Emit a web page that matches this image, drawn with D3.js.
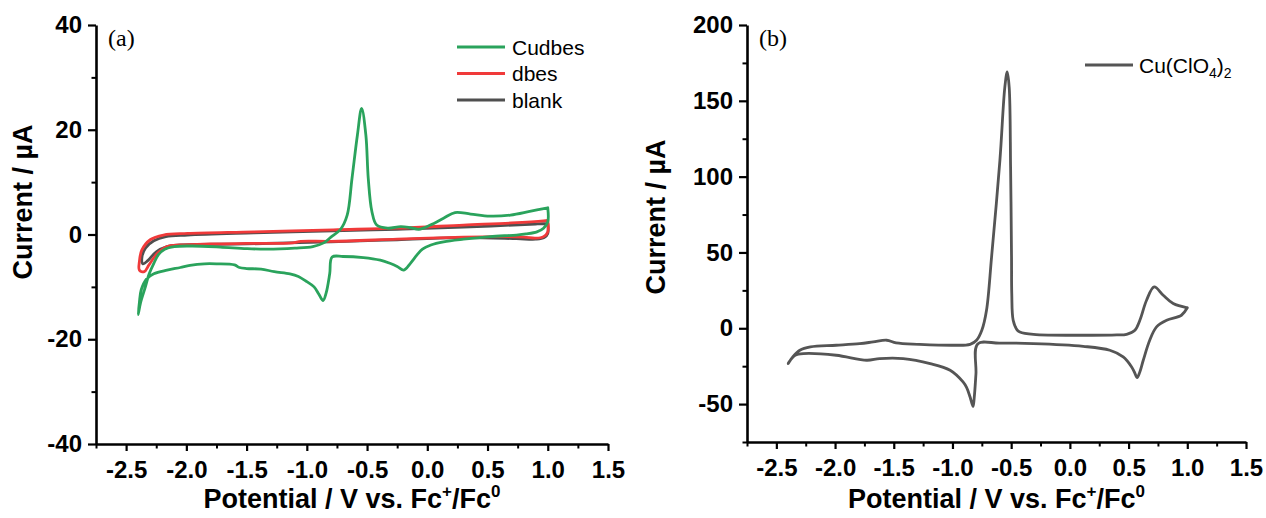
<!DOCTYPE html>
<html>
<head>
<meta charset="utf-8">
<script src="https://cdn.jsdelivr.net/npm/d3@7/dist/d3.min.js"></script>
<style>
  html, body { margin: 0; padding: 0; background: #fff; }
  svg { display: block; }
  .tick text { font-family: "Liberation Sans", Arial, sans-serif; font-weight: bold; }
</style>
</head>
<body>
<svg id="chart" width="1266" height="518"></svg>
<script>
// Cyclic voltammograms, potential (V vs Fc+/Fc0) against current (µA).
// Each series is one closed sweep loop: [potential, current] pairs.

const cudbes = [
  [1.00, 5.1], [1.00, 2.4], [0.965, 1.2], [0.91, 0.5], [0.82, 0.1], [0.74, -0.1],
  [0.52, -0.4], [0.30, -0.9], [0.135, -1.4], [0.03, -2.0], [-0.04, -2.8], [-0.085, -3.9],
  [-0.14, -5.5], [-0.195, -6.8], [-0.25, -6.1], [-0.31, -5.5], [-0.39, -4.9], [-0.53, -4.4],
  [-0.70, -4.2], [-0.79, -4.3], [-0.81, -7.5], [-0.84, -11.2], [-0.865, -12.6], [-0.90, -11.4],
  [-0.94, -10.0], [-1.00, -9.0], [-1.07, -8.0], [-1.14, -7.5], [-1.27, -7.1], [-1.38, -6.6],
  [-1.50, -6.5], [-1.56, -6.3], [-1.60, -5.8], [-1.75, -5.6], [-1.85, -5.6], [-1.97, -5.9],
  [-2.05, -6.3], [-2.16, -6.8], [-2.27, -7.5], [-2.33, -8.5], [-2.375, -10.6], [-2.39, -13.0],
  [-2.40, -15.3], [-2.38, -13.0], [-2.34, -10.0], [-2.31, -7.6], [-2.27, -5.5], [-2.23, -3.8],
  [-2.18, -2.8], [-2.10, -2.3], [-1.95, -2.2], [-1.72, -2.4], [-1.50, -2.7], [-1.33, -2.8],
  [-1.10, -2.6], [-0.95, -2.3], [-0.86, -1.6], [-0.80, -0.5], [-0.72, 1.0], [-0.665, 3.7],
  [-0.625, 10.7], [-0.58, 19.0], [-0.545, 24.1], [-0.51, 19.0], [-0.49, 10.7], [-0.46, 4.4],
  [-0.42, 1.8], [-0.33, 1.2], [-0.22, 1.5], [-0.14, 1.3], [-0.07, 1.0], [0.025, 1.8],
  [0.135, 3.1], [0.23, 4.2], [0.36, 3.9], [0.52, 3.5], [0.69, 3.7], [0.85, 4.4], [1.00, 5.1]
];

const dbes = [
  [1.00, 2.7], [1.00, 0.5], [0.965, -0.4], [0.90, -0.7], [0.80, -0.5], [0.60, -0.4],
  [0.30, -0.5], [-0.25, -0.9], [-0.80, -1.3], [-1.05, -1.3], [-1.12, -1.6], [-1.50, -1.7],
  [-1.80, -1.8], [-2.05, -2.0], [-2.16, -2.3], [-2.24, -3.6], [-2.31, -5.8], [-2.35, -7.1],
  [-2.39, -6.8], [-2.39, -5.2], [-2.37, -3.0], [-2.30, -1.0], [-2.19, -0.1], [-1.99, 0.2],
  [-1.44, 0.5], [-0.78, 0.9], [-0.25, 1.2], [0.30, 1.8], [0.70, 2.2], [0.965, 2.6], [1.00, 2.7]
];

const blank = [
  [1.00, 2.1], [1.00, 0.2], [0.97, -0.6], [0.90, -0.9], [0.74, -0.8], [0.30, -0.6],
  [-0.25, -1.0], [-0.80, -1.4], [-1.50, -1.8], [-2.05, -2.0], [-2.16, -2.3], [-2.25, -3.3],
  [-2.32, -5.0], [-2.36, -5.6], [-2.37, -4.6], [-2.34, -2.6], [-2.27, -1.2], [-2.17, -0.4],
  [-1.99, -0.1], [-1.44, 0.3], [-0.78, 0.7], [-0.25, 1.0], [0.30, 1.4], [0.90, 2.0], [1.00, 2.1]
];

const cuClO4 = [
  [1.00, 13.5], [0.95, 8.6], [0.824, 5.3], [0.738, 0.9], [0.68, -7.9], [0.625, -21.1],
  [0.595, -29.0], [0.573, -32.5], [0.55, -29.0], [0.526, -25.5], [0.454, -18.9], [0.34, -14.5],
  [0.113, -11.9], [-0.31, -10.1], [-0.60, -9.8], [-0.785, -10.3], [-0.80, -30.0], [-0.815, -46.0],
  [-0.825, -51.5], [-0.85, -45.3], [-0.88, -39.0], [-0.91, -35.4], [-1.02, -27.7], [-1.19, -23.3],
  [-1.42, -20.0], [-1.62, -20.0], [-1.73, -21.1], [-1.99, -17.8], [-2.27, -16.7], [-2.34, -17.8],
  [-2.38, -21.0], [-2.40, -23.3], [-2.36, -18.9], [-2.30, -14.5], [-2.21, -12.3], [-1.99, -11.2],
  [-1.79, -10.1], [-1.675, -9.0], [-1.56, -7.9], [-1.48, -9.7], [-1.28, -10.6], [-0.99, -11.2],
  [-0.85, -10.6], [-0.795, -7.9], [-0.75, -1.3], [-0.71, 11.9], [-0.667, 47.0], [-0.596, 110.8],
  [-0.554, 159.0], [-0.534, 169.0], [-0.517, 159.0], [-0.505, 106.0], [-0.497, 47.0], [-0.495, 22.9],
  [-0.483, 5.3], [-0.45, -1.0], [-0.426, -2.4], [-0.31, -4.0], [0.113, -4.6], [0.40, -4.4],
  [0.483, -4.0], [0.554, -1.3], [0.596, 5.3], [0.653, 18.5], [0.718, 27.3], [0.795, 21.8],
  [0.88, 16.3], [1.00, 13.5]
];

const xTicks = [-2.5, -2.0, -1.5, -1.0, -0.5, 0.0, 0.5, 1.0, 1.5];
const xMinor = [-2.75, -2.25, -1.75, -1.25, -0.75, -0.25, 0.25, 0.75, 1.25];
const yTicksA = [-40, -20, 0, 20, 40];
const yMinorA = [-30, -10, 10, 30];
const yTicksB = [-50, 0, 50, 100, 150, 200];
const yMinorB = [-75, -25, 25, 75, 125, 175];

const seriesA = [
  { name: "blank", data: blank, color: "#4f4f4f" },
  { name: "dbes", data: dbes, color: "#f03a3a" },
  { name: "Cudbes", data: cudbes, color: "#2aa35c" }
];
const seriesB = [
  { name: "Cu(ClO4)2", data: cuClO4, color: "#555555" }
];

const FONT = '"Liberation Sans", Arial, sans-serif';
const svg = d3.select("#chart");

function panel(cfg) {
  const x = d3.scaleLinear().domain([-2.75, 1.5]).range([cfg.left, cfg.right]);
  const y = d3.scaleLinear().domain(cfg.yDomain).range([cfg.bottom, cfg.top]);
  const g = svg.append("g");

  const line = d3.line().x(d => x(d[0])).y(d => y(d[1]))
    .curve(d3.curveCatmullRom.alpha(0.5));
  cfg.series.forEach(s => {
    g.append("path").datum(s.data)
      .attr("d", line)
      .attr("fill", "none")
      .attr("stroke", s.color)
      .attr("stroke-width", 2.8)
      .attr("stroke-linejoin", "round")
      .attr("stroke-linecap", "round");
  });

  // minor ticks
  g.append("g").attr("transform", `translate(0,${cfg.bottom})`)
    .call(d3.axisBottom(x).tickValues(xMinor).tickSize(4.5).tickSizeOuter(0).tickFormat(""))
    .call(a => a.select(".domain").remove())
    .call(a => a.selectAll("line").attr("stroke-width", 2));
  g.append("g").attr("transform", `translate(${cfg.left},0)`)
    .call(d3.axisLeft(y).tickValues(cfg.yMinor).tickSize(4.5).tickSizeOuter(0).tickFormat(""))
    .call(a => a.select(".domain").remove())
    .call(a => a.selectAll("line").attr("stroke-width", 2));

  // major ticks, labels and axis lines
  g.append("g").attr("transform", `translate(0,${cfg.bottom})`)
    .call(d3.axisBottom(x).tickValues(xTicks).tickSize(7).tickSizeOuter(0)
      .tickPadding(10).tickFormat(v => v.toFixed(1)))
    .call(a => a.select(".domain").attr("stroke-width", 2.6))
    .call(a => a.selectAll("line").attr("stroke-width", 2.2))
    .call(a => a.selectAll("text").attr("font-size", 24).attr("fill", "#000"));
  g.append("g").attr("transform", `translate(${cfg.left},0)`)
    .call(d3.axisLeft(y).tickValues(cfg.yTicks).tickSize(8).tickSizeOuter(0)
      .tickPadding(6).tickFormat(v => String(v)))
    .call(a => a.select(".domain").attr("stroke-width", 2.6))
    .call(a => a.selectAll("line").attr("stroke-width", 2.2))
    .call(a => a.selectAll("text").attr("font-size", 24).attr("fill", "#000"));

  // axis titles
  const xt = g.append("text")
    .attr("x", (cfg.left + cfg.right) / 2).attr("y", 508)
    .attr("text-anchor", "middle")
    .attr("font-family", FONT).attr("font-weight", "bold").attr("font-size", 27);
  xt.append("tspan").text("Potential / V vs. Fc");
  xt.append("tspan").text("+").attr("font-size", 17).attr("dy", -11);
  xt.append("tspan").text("/Fc").attr("dy", 11);
  xt.append("tspan").text("0").attr("font-size", 17).attr("dy", -11);

  g.append("text")
    .attr("transform", `translate(${cfg.yTitleX},${cfg.yTitleY}) rotate(-90)`)
    .attr("text-anchor", "middle")
    .attr("font-family", FONT).attr("font-weight", "bold").attr("font-size", 27)
    .text("Current / µA");

  // panel letter
  g.append("text")
    .attr("x", cfg.left + 12).attr("y", 46)
    .attr("font-family", '"Liberation Serif", "Times New Roman", serif')
    .attr("font-size", 24)
    .text(cfg.letter);

  return { x, y, g };
}

const pa = panel({
  left: 96, right: 608, top: 25, bottom: 444,
  yDomain: [-40, 40], yTicks: yTicksA, yMinor: yMinorA,
  series: seriesA, letter: "(a)", yTitleX: 32, yTitleY: 202
});

const pb = panel({
  left: 747, right: 1246, top: 25, bottom: 442,
  yDomain: [-75, 200], yTicks: yTicksB, yMinor: yMinorB,
  series: seriesB, letter: "(b)", yTitleX: 665, yTitleY: 217
});

// legend, panel (a)
const legA = pa.g.append("g");
["Cudbes", "dbes", "blank"].forEach((name, i) => {
  const s = seriesA.find(d => d.name === name);
  const cy = 47 + i * 26.5;
  legA.append("line").attr("x1", 457).attr("x2", 505).attr("y1", cy).attr("y2", cy)
    .attr("stroke", s.color).attr("stroke-width", 2.8);
  legA.append("text").attr("x", 512).attr("y", cy + 7.5)
    .attr("font-family", FONT).attr("font-size", 21).text(name);
});

// legend, panel (b)
const legB = pb.g.append("g");
legB.append("line").attr("x1", 1085).attr("x2", 1133).attr("y1", 65).attr("y2", 65)
  .attr("stroke", seriesB[0].color).attr("stroke-width", 2.8);
const lt = legB.append("text").attr("x", 1139).attr("y", 72.5)
  .attr("font-family", FONT).attr("font-size", 21);
lt.append("tspan").text("Cu(ClO");
lt.append("tspan").text("4").attr("font-size", 14).attr("dy", 5);
lt.append("tspan").text(")").attr("dy", -5);
lt.append("tspan").text("2").attr("font-size", 14).attr("dy", 5);
</script>
</body>
</html>
